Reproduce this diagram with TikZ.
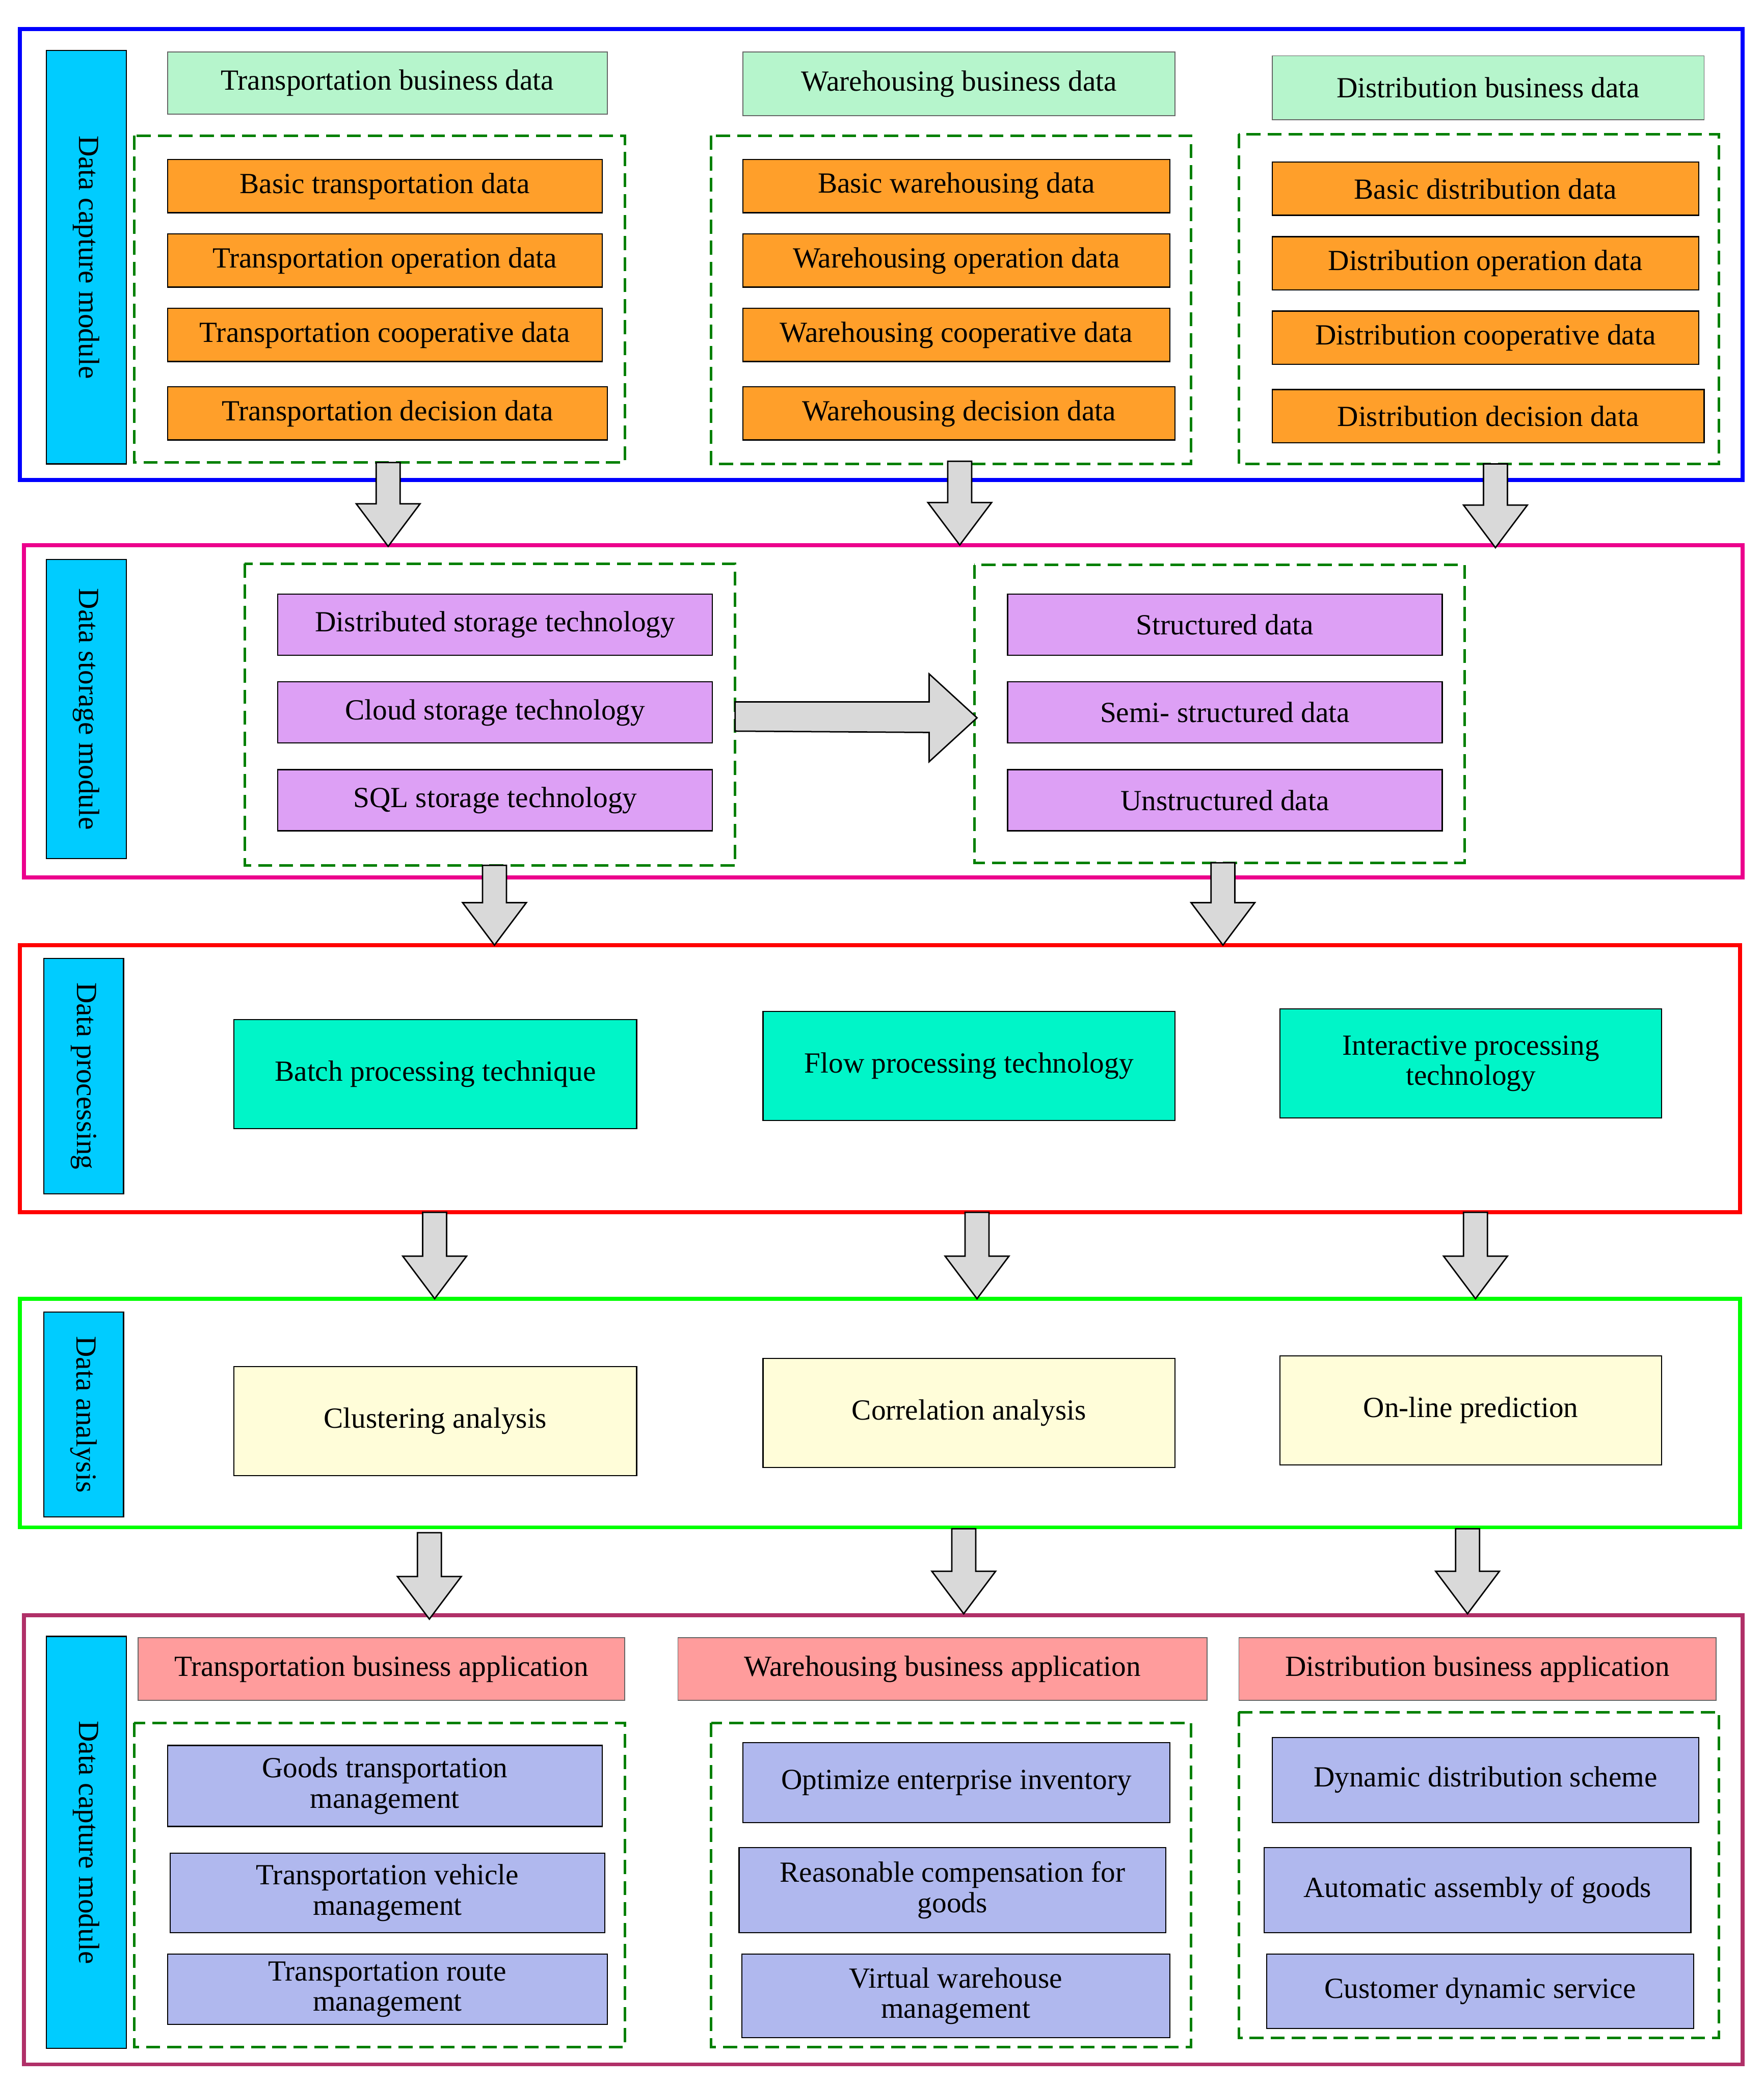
\documentclass[tikz,border=0pt]{standalone}
\usepackage{fontspec}
\setmainfont{Liberation Serif}
\begin{document}
\begin{tikzpicture}[x=0.02cm,y=-0.02cm,
  every node/.style={font=\fontsize{12.5}{13}\selectfont, align=center, inner sep=0pt},
  frame/.style={line width=1.7pt},
  dbox/.style={draw=green!50!black, line width=1.1pt, dash pattern=on 6pt off 3pt},
  side/.style={draw=black, fill=cyan!80!blue!60, line width=0.5pt, rotate=-90},
  hdrg/.style={draw=black!60, fill=green!30!white!80, line width=0.4pt},
  org/.style={draw=black, fill=orange!85!yellow, line width=0.5pt},
  pur/.style={draw=black, fill=violet!40!magenta!40, line width=0.5pt},
  teal/.style={draw=black, fill=teal!0!cyan!0!green!70!cyan!100, line width=0.5pt},
  yel/.style={draw=black, fill=yellow!15, line width=0.5pt},
  pink/.style={draw=black!60, fill=red!40, line width=0.4pt},
  lav/.style={draw=black, fill=blue!30!white!90, line width=0.5pt},
  arr/.style={draw=black, fill=black!15, line width=0.6pt}]
\definecolor{tealc}{HTML}{00F5C8}
\definecolor{lavc}{HTML}{B0B8EE}
\definecolor{purc}{HTML}{DDA0F5}
\definecolor{orgc}{HTML}{FF9F2A}
\definecolor{grnc}{HTML}{B6F5CC}
\definecolor{pinkc}{HTML}{FF9C9C}
\definecolor{sidec}{HTML}{00CCFF}
\definecolor{plum}{HTML}{B03068}
\tikzset{teal/.append style={fill=tealc}, lav/.append style={fill=lavc}, pur/.append style={fill=purc},
 org/.append style={fill=orgc}, hdrg/.append style={fill=grnc}, pink/.append style={fill=pinkc}, side/.append style={fill=sidec}}
\newcommand\bx[7]{\node[#6, minimum width={(#4-#2)*0.02cm}, minimum height={(#5-#3)*0.02cm}] (#1) at ({(#2+#4)/2},{(#3+#5)/2}) {#7};}
\newcommand\sd[6]{\node[side, minimum width={(#5-#3)*0.02cm}, minimum height={(#4-#2)*0.02cm}] (#1) at ({(#2+#4)/2},{(#3+#5)/2}) {#6};}
\newcommand\varr[3]{\draw[arr] ({#1-9},#2)--({#1+9},#2)--({#1+9},{#3-32})--({#1+24},{#3-32})--(#1,#3)--({#1-24},{#3-32})--({#1-9},{#3-32})--cycle;}
\useasboundingbox (0,0) rectangle (1327,1567);
% frames
\draw[frame,blue] (15,22) rectangle (1311,361);
\draw[frame,magenta] (18,410) rectangle (1311,660);
\draw[frame,red] (15,711) rectangle (1309,912);
\draw[frame,green] (15,977) rectangle (1309,1149);
\draw[frame,plum] (18,1215) rectangle (1311,1553);
% side labels
\sd{s1}{35}{38}{95}{349}{Data capture module}
\sd{s2}{35}{421}{95}{646}{Data storage module}
\sd{s3}{33}{721}{93}{898}{Data processing}
\sd{s4}{33}{987}{93}{1141}{Data analysis}
\sd{s5}{35}{1231}{95}{1541}{Data capture module}
% module 1
\bx{h1}{126}{39}{457}{86}{hdrg}{Transportation business data}
\bx{h2}{559}{39}{884}{87}{hdrg}{Warehousing business data}
\bx{h3}{957}{42}{1282}{90}{hdrg}{Distribution business data}
\draw[dbox] (101,102) rectangle (470,348);
\draw[dbox] (535,102) rectangle (896,349);
\draw[dbox] (932,101) rectangle (1293,349);
\bx{a1}{126}{120}{453}{160}{org}{Basic transportation data}
\bx{a2}{126}{176}{453}{216}{org}{Transportation operation data}
\bx{a3}{126}{232}{453}{272}{org}{Transportation cooperative data}
\bx{a4}{126}{291}{457}{331}{org}{Transportation decision data}
\bx{b1}{559}{120}{880}{160}{org}{Basic warehousing data}
\bx{b2}{559}{176}{880}{216}{org}{Warehousing operation data}
\bx{b3}{559}{232}{880}{272}{org}{Warehousing cooperative data}
\bx{b4}{559}{291}{884}{331}{org}{Warehousing decision data}
\bx{c1}{957}{122}{1278}{162}{org}{Basic distribution data}
\bx{c2}{957}{178}{1278}{218}{org}{Distribution operation data}
\bx{c3}{957}{234}{1278}{274}{org}{Distribution cooperative data}
\bx{c4}{957}{293}{1282}{333}{org}{Distribution decision data}
% module 2
\draw[dbox] (184,424) rectangle (553,651);
\draw[dbox] (733,425) rectangle (1102,649);
\bx{d1}{209}{447}{536}{493}{pur}{Distributed storage technology}
\bx{d2}{209}{513}{536}{559}{pur}{Cloud storage technology}
\bx{d3}{209}{579}{536}{625}{pur}{SQL storage technology}
\bx{e1}{758}{447}{1085}{493}{pur}{Structured data}
\bx{e2}{758}{513}{1085}{559}{pur}{Semi- structured data}
\bx{e3}{758}{579}{1085}{625}{pur}{Unstructured data}
\draw[arr] (553,528)--(699,528)--(699,507)--(735,540)--(699,573)--(699,551)--(553,550)--cycle;
% module 3
\bx{p1}{176}{767}{479}{849}{teal}{Batch processing technique}
\bx{p2}{574}{761}{884}{843}{teal}{Flow processing technology}
\bx{p3}{963}{759}{1250}{841}{teal}{Interactive processing\\technology}
% module 4
\bx{q1}{176}{1028}{479}{1110}{yel}{Clustering analysis}
\bx{q2}{574}{1022}{884}{1104}{yel}{Correlation analysis}
\bx{q3}{963}{1020}{1250}{1102}{yel}{On-line prediction}
% module 5
\bx{g1}{104}{1232}{470}{1279}{pink}{Transportation business application}
\bx{g2}{510}{1232}{908}{1279}{pink}{Warehousing business application}
\bx{g3}{932}{1232}{1291}{1279}{pink}{Distribution business application}
\draw[dbox] (101,1296) rectangle (470,1540);
\draw[dbox] (535,1296) rectangle (896,1540);
\draw[dbox] (932,1288) rectangle (1293,1533);
\bx{t1}{126}{1313}{453}{1374}{lav}{Goods transportation\\management}
\bx{t2}{128}{1394}{455}{1454}{lav}{Transportation vehicle\\management}
\bx{t3}{126}{1470}{457}{1523}{lav}{Transportation route\\management}
\bx{w1}{559}{1311}{880}{1371}{lav}{Optimize enterprise inventory}
\bx{w2}{556}{1390}{877}{1454}{lav}{Reasonable compensation for\\goods}
\bx{w3}{558}{1470}{880}{1533}{lav}{Virtual warehouse\\management}
\bx{u1}{957}{1307}{1278}{1371}{lav}{Dynamic distribution scheme}
\bx{u2}{951}{1390}{1272}{1454}{lav}{Automatic assembly of goods}
\bx{u3}{953}{1470}{1274}{1526}{lav}{Customer dynamic service}
% arrows
\varr{292}{348}{411}
\varr{722}{347}{410}
\varr{1125}{349}{412}
\varr{372}{651}{711}
\varr{920}{649}{711}
\varr{327}{912}{977}
\varr{735}{912}{977}
\varr{1110}{912}{977}
\varr{323}{1153}{1218}
\varr{725}{1150}{1214}
\varr{1104}{1150}{1214}
\end{tikzpicture}
\end{document}
